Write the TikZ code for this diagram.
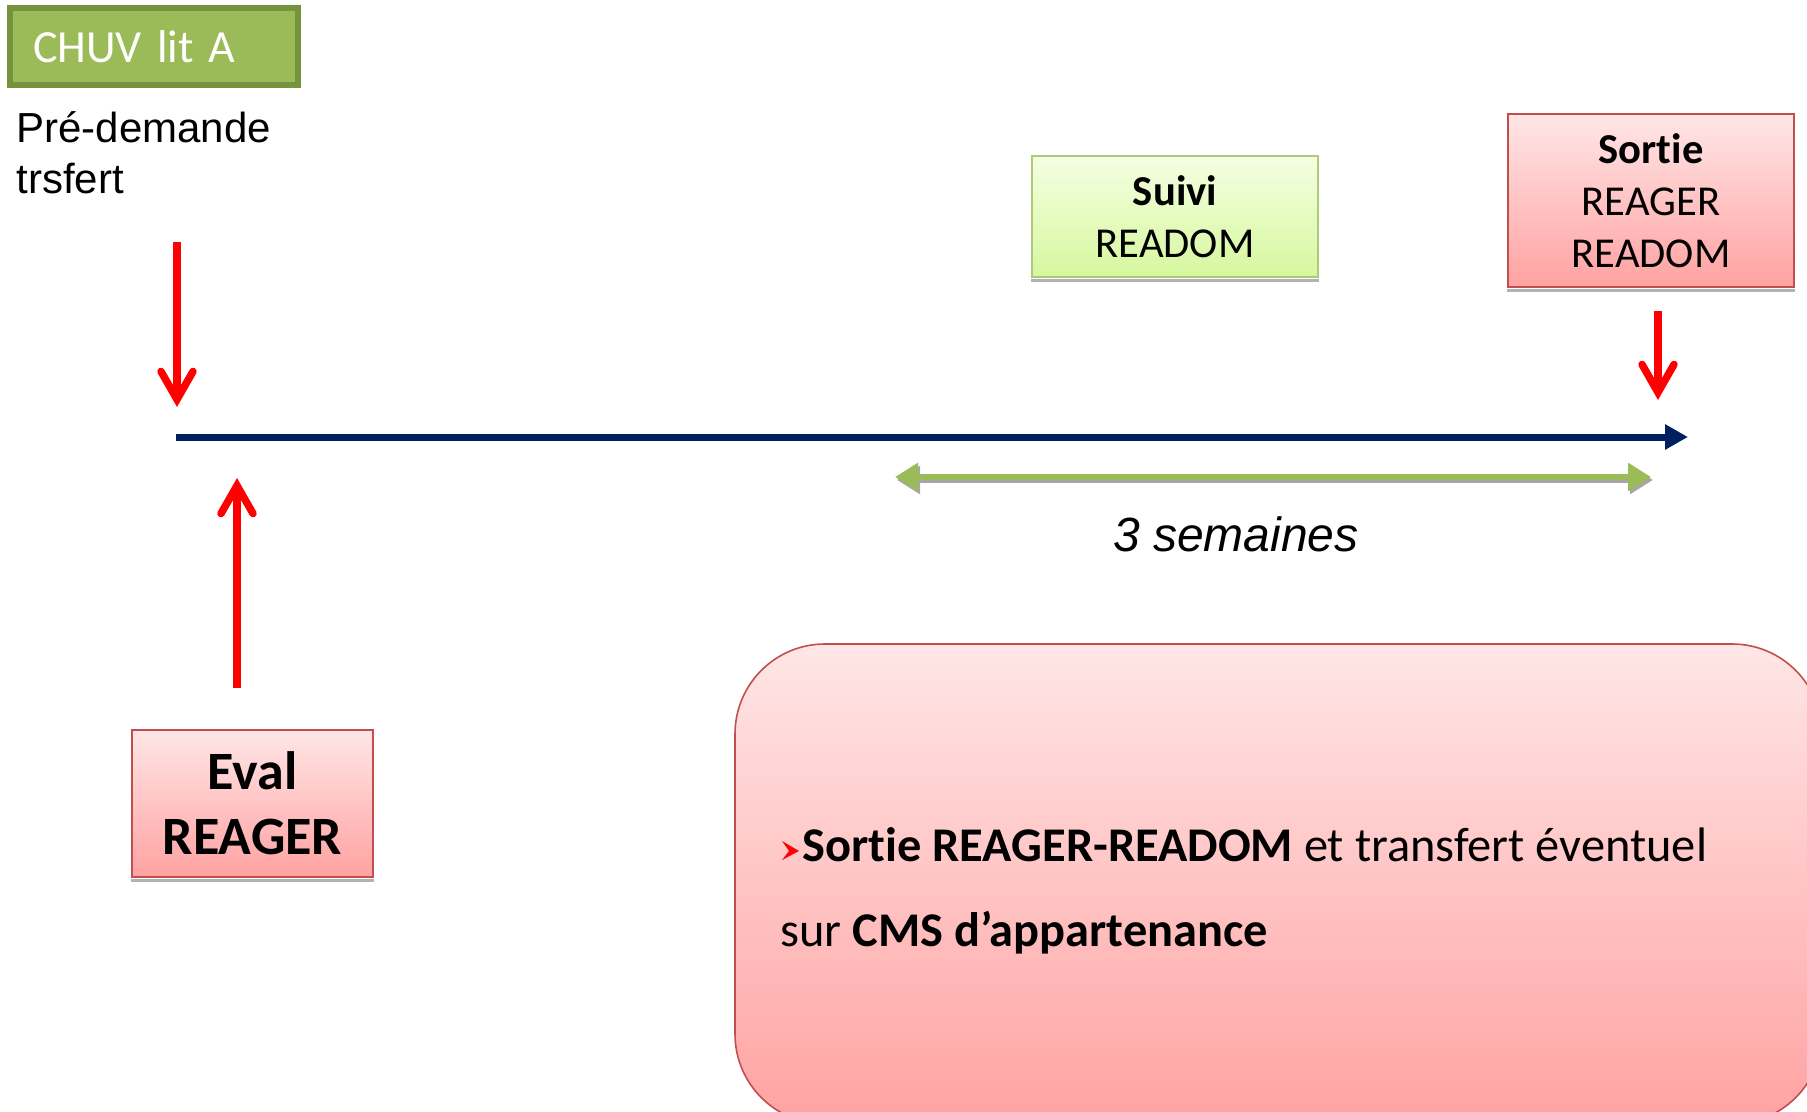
\documentclass[tikz,border=0pt]{standalone}
\usepackage{fontspec}
\setmainfont{Carlito}[Ligatures=NoCommon]
\newfontfamily\arialfont{Liberation Sans}
\usepackage{tikz}
\usetikzlibrary{arrows.meta, positioning}
\definecolor{chuvgreen}{RGB}{155,187,89}
\definecolor{chuvdark}{RGB}{118,146,60}
\definecolor{suivitop}{RGB}{244,255,226}
\definecolor{suivibot}{RGB}{214,247,158}
\definecolor{pinktop}{RGB}{255,230,230}
\definecolor{pinkbot}{RGB}{255,162,162}
\definecolor{pinkline}{RGB}{192,80,77}
\definecolor{timenavy}{RGB}{0,32,96}

\begin{document}
\begin{tikzpicture}[x=0.5pt, y=-0.5pt,
  every node/.style={inner sep=0pt},
  pinkbox/.style={draw=pinkline, line width=1pt, top color=pinktop, bottom color=pinkbot,
    align=center, font=\fontsize{21.3}{26}\selectfont},
  suivibox/.style={draw=chuvgreen!80, line width=1pt, top color=suivitop, bottom color=suivibot,
    align=center, font=\fontsize{21.3}{26}\selectfont},
  redarrow/.style={draw=red, line width=3.75pt,
    -{Straight Barb[length=14pt, width=16pt, line cap=round]}},
  timeline/.style={draw=timenavy, line width=3.5pt, -{Triangle[length=11.5pt, width=12pt]}},
  weekarrow/.style={draw=chuvgreen, line width=3pt,
    {Triangle[length=11.5pt, width=13.5pt]}-{Triangle[length=11.5pt, width=13.5pt]}},
  boxshadow/.style={draw=gray!60, line width=1.5pt}]

  \useasboundingbox (0,0) rectangle (1807,1112);
  \clip (0,0) rectangle (1807,1112);

  % hospital bed label
  \node[fill=chuvgreen, draw=chuvdark, line width=3pt, minimum width=144pt, minimum height=38.5pt,
        text width=121pt, align=left, text=white, font=\fontsize{23}{28}\selectfont]
        (chuv) at (154,46.5) {\raisebox{-1.5pt}{CHUV lit A}};
  \node[anchor=base west, align=left, font=\arialfont\fontsize{21}{25.5}\selectfont]
        (predemande) at (16,194) {Pré-demande\\trsfert};

  % boxes
  \node[suivibox, minimum width=143pt, minimum height=60.5pt] (suivi) at (1175,216.5)
        {\textbf{Suivi}\\READOM};
  \node[pinkbox, minimum width=143pt, minimum height=86.5pt] (sortie) at (1651,200.5)
        {\textbf{Sortie}\\REAGER\\READOM};
  \node[pinkbox, minimum width=120.5pt, minimum height=73.5pt,
        font=\fontsize{27}{32.5}\selectfont\bfseries] (eval) at (252.5,803.5) {Eval\\REAGER};
  \foreach \b in {suivi, sortie, eval}
    \draw[boxshadow] ([yshift=-1.2pt]\b.south west) -- ([yshift=-1.2pt]\b.south east);

  % time axis
  \coordinate (t0) at (176,437);
  \coordinate (t1) at (1688,437);
  \draw[timeline] (t0) -- (t1);

  % red markers
  \coordinate (pre1) at (177,242);
  \coordinate (pre2) at (177,407);
  \coordinate (eva1) at (237,688);
  \coordinate (eva2) at (237,478);
  \coordinate (out1) at (1658,311);
  \coordinate (out2) at (1658,400);
  \draw[redarrow] (pre1) -- (pre2);
  \draw[redarrow] (eva1) -- (eva2);
  \draw[redarrow] (out1) -- (out2);

  % three weeks span
  \coordinate (w0) at (895,477);
  \coordinate (w1) at (1651,477);
  \draw[weekarrow, draw=gray!70, transform canvas={shift={(1pt,-1.5pt)}}] (w0) -- (w1);
  \draw[weekarrow] (w0) -- (w1);
  \node[anchor=base, font=\arialfont\itshape\fontsize{24}{28}\selectfont] (duree) at (1236,551)
        {3 semaines};

  % exit note
  \draw[draw=pinkline, line width=0.8pt, top color=pinktop, bottom color=pinkbot,
        rounded corners=45pt] (735,644) rectangle (1822,1124);
  \fill[red] (782,841) -- (799,851) -- (782,860) -- (789,851) -- cycle;
  \node[anchor=base west, font=\fontsize{24.2}{28}\selectfont] (note1) at (802,861)
        {\textbf{Sortie REAGER-READOM} et transfert éventuel};
  \node[anchor=base west, font=\fontsize{24.2}{28}\selectfont] (note2) at (780,946)
        {sur \textbf{CMS d’appartenance}};
\end{tikzpicture}
\end{document}
